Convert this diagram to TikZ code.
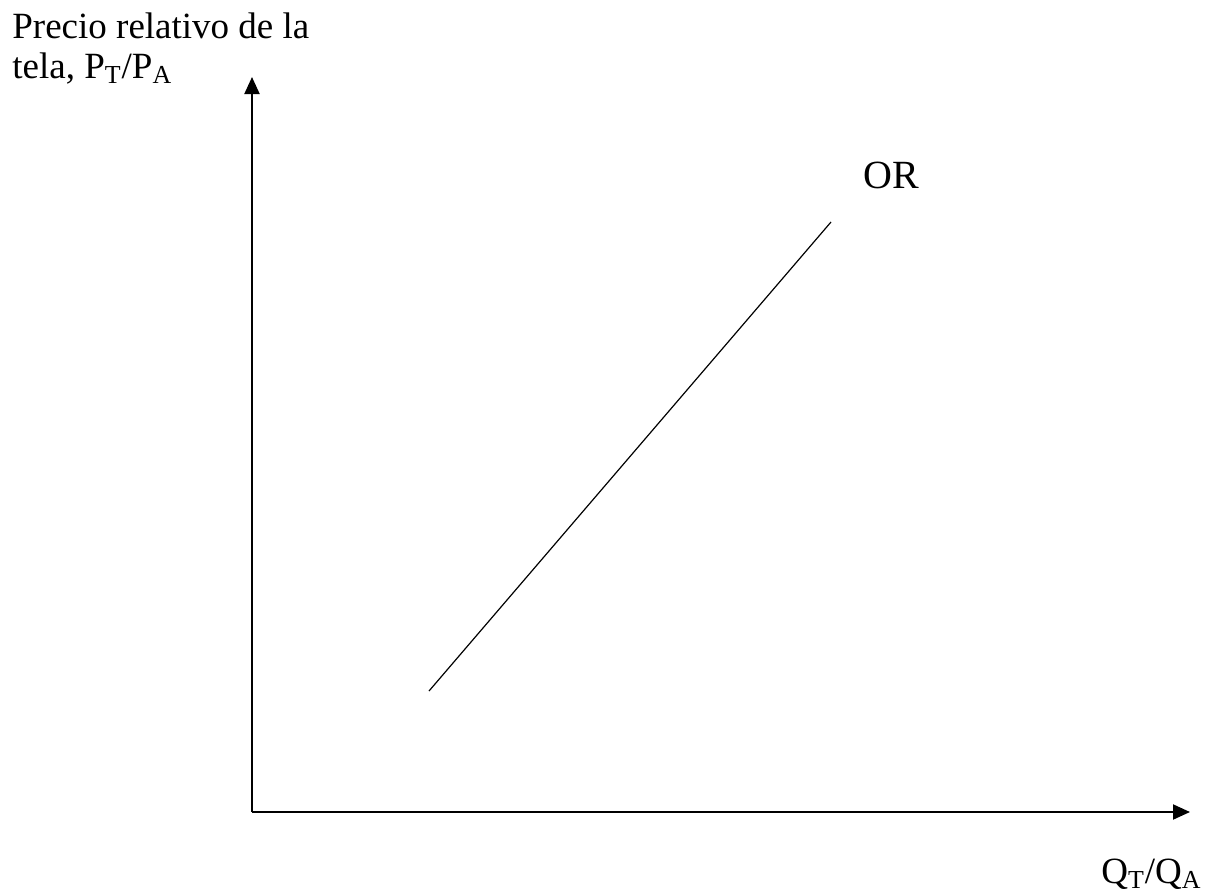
\documentclass[tikz,border=0pt]{standalone}
\usepackage{fontspec}
\setmainfont{Liberation Serif}
\usetikzlibrary{arrows.meta}
\tikzset{
  axis/.style={line width=1pt,-{Triangle[length=8.5pt,width=7.5pt]}},
  curve/.style={line width=0.6pt},
  lab/.style={inner sep=0pt,font=\fontsize{18.5}{20}\selectfont}
}
\begin{document}
\begin{tikzpicture}[x=0.5pt,y=-0.5pt]
\useasboundingbox (0,0) rectangle (1205,894);
\coordinate (O) at (252,812);
\coordinate (ytip) at (252,77);
\coordinate (xtip) at (1190,812);
\draw[axis] (O) -- (ytip);
\draw[axis] (O) -- (xtip);
\coordinate (ORa) at (429,691);
\coordinate (ORb) at (831,222);
\draw[curve] (ORa) -- (ORb);
\node[lab,anchor=base west,align=left] (ylab) at (12,78) {Precio relativo de la\\tela, P\textsubscript{T}/P\textsubscript{A}};
\node[lab,anchor=base west] (xlab) at (1101,883) {Q\textsubscript{T}/Q\textsubscript{A}};
\node[lab,anchor=base west,font=\fontsize{20}{24}\selectfont] (orlab) at (863,188) {OR};
\end{tikzpicture}
\end{document}
